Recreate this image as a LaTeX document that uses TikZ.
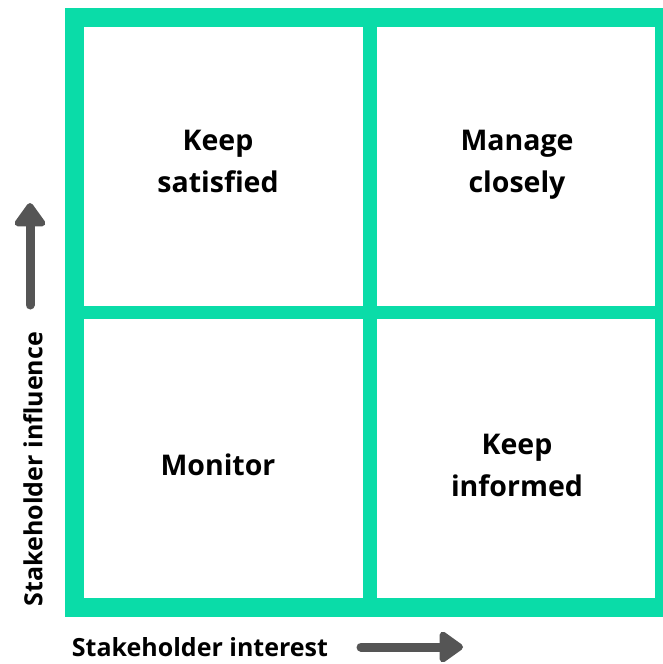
\documentclass[tikz,border=0pt]{standalone}
\usepackage{fontspec}
\setmainfont{Open Sans}
\usetikzlibrary{arrows.meta}

\definecolor{gridgreen}{HTML}{0ADCA8}
\definecolor{arrowgray}{HTML}{555555}

\tikzset{
  cell/.style={fill=white},
  quadlabel/.style={align=center, font=\bfseries\fontsize{28.5}{42}\selectfont},
  axislabel/.style={font=\bfseries\fontsize{25}{28}\selectfont},
  axisarrow/.style={arrowgray, line width=9pt, line cap=round,
    -{Triangle[width=35pt,length=26pt,round]}}
}

\begin{document}
\begin{tikzpicture}[x=1pt,y=-1pt]
  \useasboundingbox (0,0) rectangle (662,664);
  % Parametry mrizky
  \def\xa{84}  \def\xb{363} \def\xc{377} \def\xd{655}
  \def\ya{27}  \def\yb{306} \def\yc{319} \def\yd{598}

  % Zeleny ram a bila pole
  \fill[gridgreen] (65,8) rectangle (670,617);
  \fill[cell] (\xa,\ya) rectangle (\xb,\yb);
  \fill[cell] (\xc,\ya) rectangle (\xd,\yb);
  \fill[cell] (\xa,\yc) rectangle (\xb,\yd);
  \fill[cell] (\xc,\yc) rectangle (\xd,\yd);

  % Popisky kvadrantu
  \node[quadlabel] (satisfied) at (218,161) {Keep\\satisfied};
  \node[quadlabel] (closely) at (517,165) {Manage\\closely};
  \node[quadlabel] (monitor) at (218,465) {Monitor};
  \node[quadlabel] (informed) at (517,465) {Keep\\informed};

  % Osy
  \node[axislabel, rotate=90] (influence) at (33,469) {Stakeholder influence};
  \node[axislabel] (interest) at (200,647) {Stakeholder interest};
  \coordinate (upstart) at (30,305);
  \coordinate (upend) at (30,203);
  \coordinate (rightstart) at (361,647);
  \coordinate (rightend) at (463,647);
  \draw[axisarrow] (upstart) -- (upend);
  \draw[axisarrow] (rightstart) -- (rightend);
\end{tikzpicture}
\end{document}
